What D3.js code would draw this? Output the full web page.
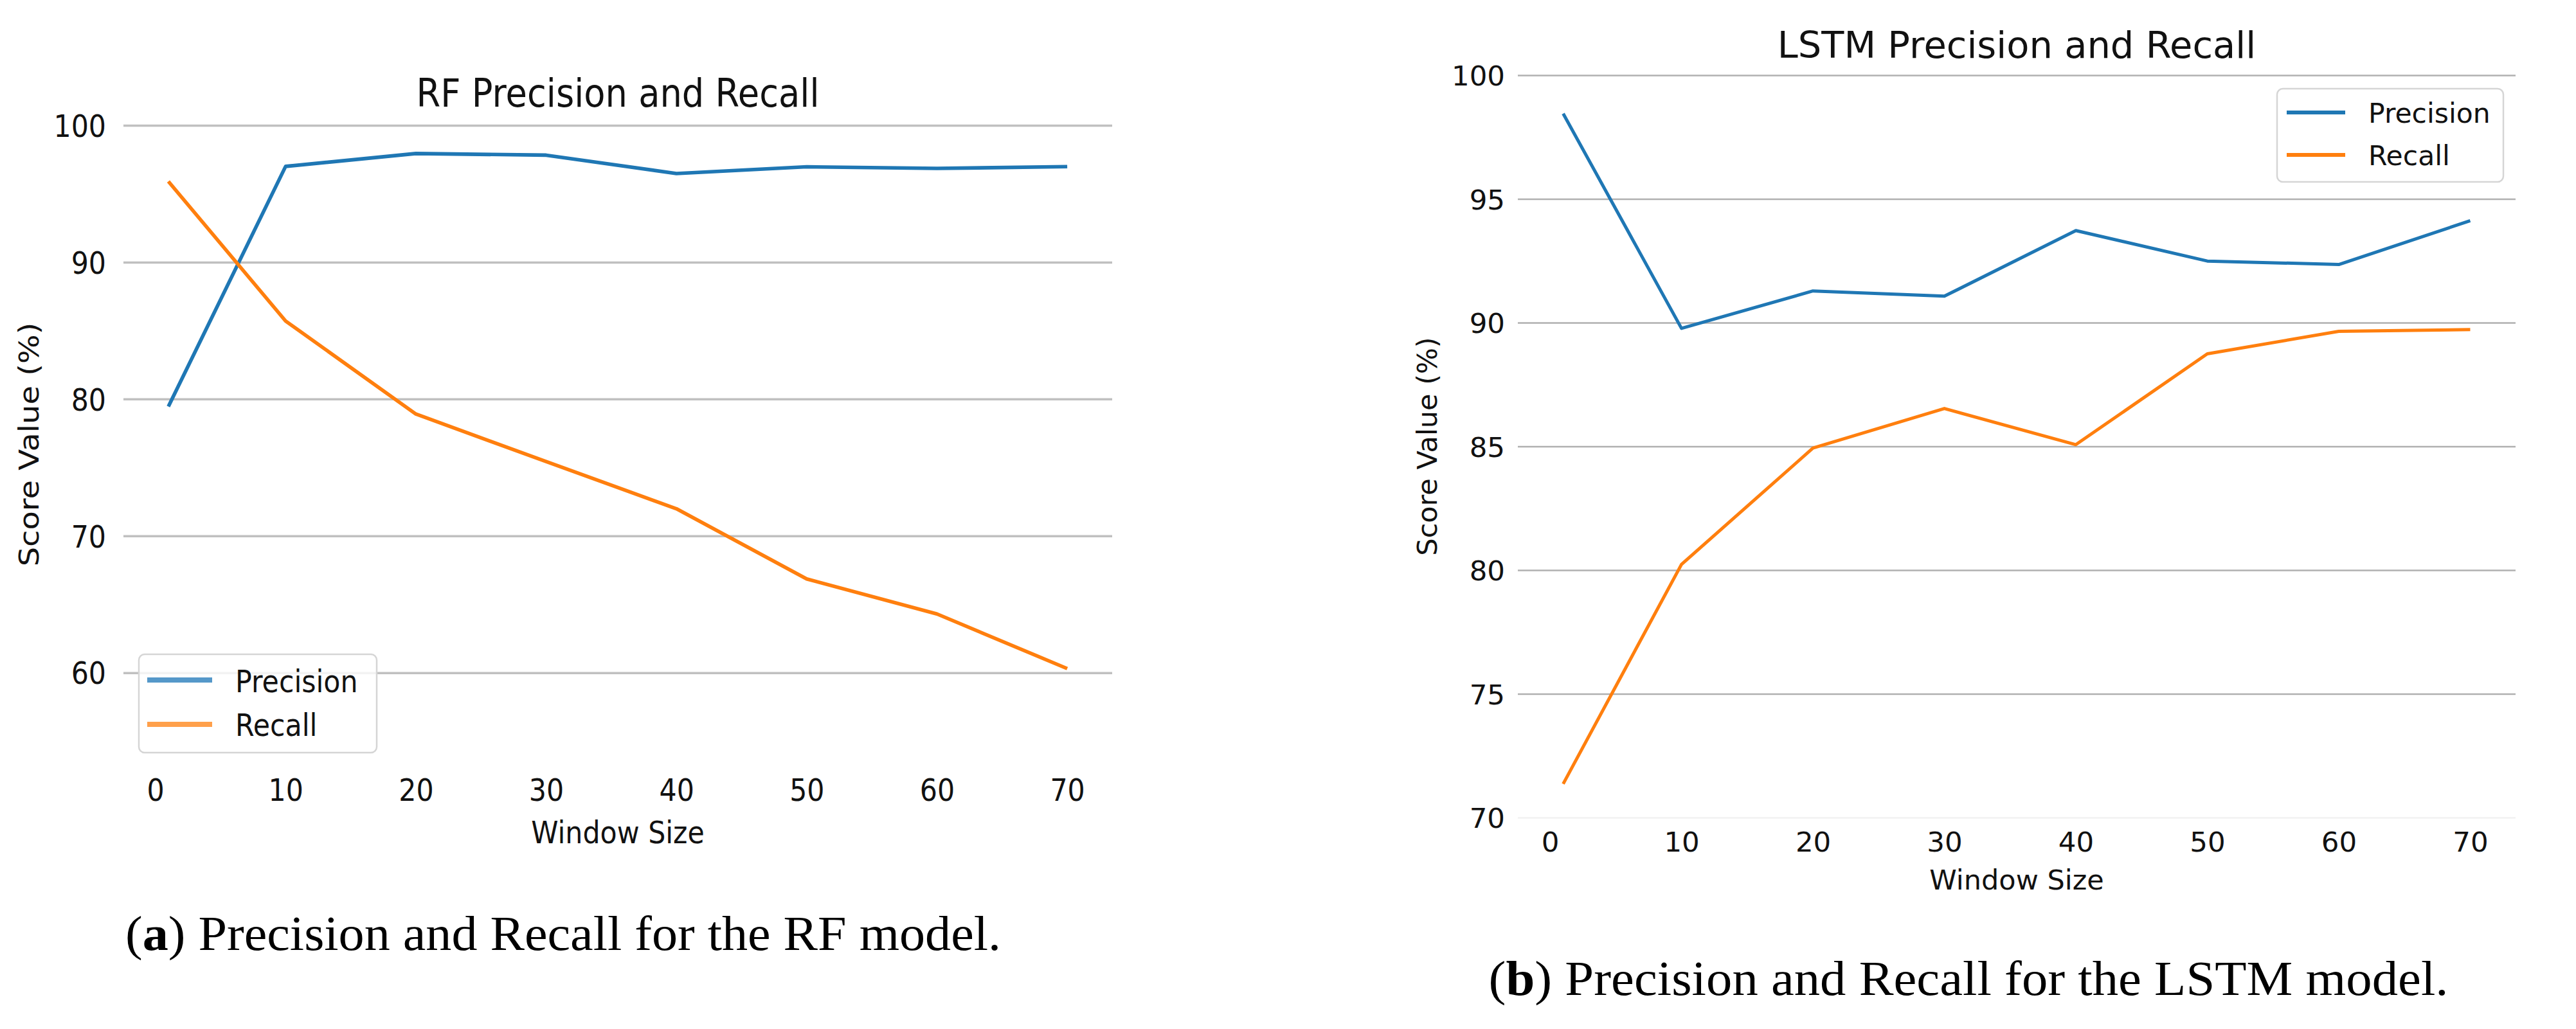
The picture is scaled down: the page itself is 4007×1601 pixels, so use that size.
<!DOCTYPE html>
<html>
<head>
<meta charset="utf-8">
<script src="https://cdn.jsdelivr.net/npm/d3@7"></script>
<style>
  body { margin: 0; background: #fff; }
  svg { display: block; }
</style>
</head>
<body>
<div id="fig"></div>
<script>
// ---------------- data ----------------
const windowSizes = [1, 10, 20, 30, 40, 50, 60, 70];
const xTicks = [0, 10, 20, 30, 40, 50, 60, 70];

const rfPrecision = [79.45, 97.0, 97.94, 97.82, 96.48, 96.97, 96.85, 96.98];
const rfRecall    = [95.9, 85.7, 78.9, 75.43, 71.98, 66.85, 64.29, 60.3];
const rfYTicks    = [60, 70, 80, 90, 100];

const lstmPrecision = [98.45, 89.77, 91.28, 91.07, 93.72, 92.49, 92.35, 94.12];
const lstmRecall    = [71.36, 80.23, 84.93, 86.53, 85.07, 88.74, 89.65, 89.72];
const lstmYTicks    = [70, 75, 80, 85, 90, 95, 100];

const seriesNames = ['Precision', 'Recall'];

const W = 4007, H = 1601;
const svg = d3.select('#fig').append('svg')
    .attr('width', W)
    .attr('height', H);

const FONT = 'DejaVu Sans, sans-serif';
const TEXT = '#111';

// one panel = one matplotlib axes
function drawPanel(cfg) {
    const x = d3.scaleLinear().domain([-2.45, 73.45]).range([cfg.x0, cfg.x1]);
    const y = d3.scaleLinear().domain(cfg.yDomain).range([cfg.yBottom, cfg.yTop]);
    const sx = cfg.squeeze;
    const g = svg.append('g');

    // horizontal grid + y tick labels
    const yAxis = g.append('g')
        .attr('transform', `translate(${cfg.x0},0)`)
        .call(d3.axisLeft(y).tickValues(cfg.yTicks).tickSize(-(cfg.x1 - cfg.x0)).tickFormat(d3.format('d')));
    yAxis.select('.domain').remove();
    yAxis.selectAll('.tick line')
        .attr('stroke', d => d === cfg.yDomain[0] ? '#f2f2f2' : cfg.gridColor)
        .attr('stroke-width', cfg.gridWidth);
    yAxis.selectAll('.tick text')
        .attr('x', -cfg.yLabelGap / sx)
        .attr('dy', '0.36em')
        .attr('transform', `scale(${sx},1)`)
        .attr('fill', TEXT)
        .style('font-family', FONT)
        .style('font-size', cfg.tickSize + 'px');

    // x tick labels (no tick marks, no spine)
    const xAxis = g.append('g')
        .attr('transform', `translate(0,${cfg.yBottom})`)
        .call(d3.axisBottom(x).tickValues(xTicks).tickSize(0).tickFormat(d3.format('d')));
    xAxis.select('.domain').remove();
    xAxis.selectAll('.tick text')
        .attr('x', 0)
        .attr('y', cfg.xTickBase - cfg.yBottom)
        .attr('dy', 0)
        .attr('transform', `scale(${sx},1)`)
        .attr('fill', TEXT)
        .style('font-family', FONT)
        .style('font-size', cfg.tickSize + 'px');

    // lines
    const line = d3.line()
        .x((d, i) => x(windowSizes[i]))
        .y(d => y(d));
    const colors = ['#1f77b4', '#ff7f0e'];
    [cfg.precision, cfg.recall].forEach((vals, k) => {
        g.append('path')
            .datum(vals)
            .attr('d', line)
            .attr('fill', 'none')
            .attr('stroke', colors[k])
            .attr('stroke-width', cfg.lineWidth)
            .attr('stroke-linejoin', 'round');
    });

    const cx = (cfg.x0 + cfg.x1) / 2;

    // title
    g.append('text')
        .attr('transform', `translate(${cx},${cfg.titleBase}) scale(${sx},1)`)
        .attr('text-anchor', 'middle')
        .attr('fill', TEXT)
        .style('font-family', FONT)
        .style('font-size', cfg.titleSize + 'px')
        .text(cfg.title);

    // axis labels
    g.append('text')
        .attr('transform', `translate(${cx},${cfg.xLabelBase}) scale(${sx},1)`)
        .attr('text-anchor', 'middle')
        .attr('fill', TEXT)
        .style('font-family', FONT)
        .style('font-size', cfg.labelSize + 'px')
        .text('Window Size');
    g.append('text')
        .attr('transform', `translate(${cfg.yLabelBase},${(cfg.yTop + cfg.yBottom) / 2}) scale(${sx},1) rotate(-90)`)
        .attr('text-anchor', 'middle')
        .attr('fill', TEXT)
        .style('font-family', FONT)
        .style('font-size', cfg.labelSize + 'px')
        .text('Score Value (%)');

    // legend
    const L = cfg.legend;
    const lg = g.append('g');
    lg.append('rect')
        .attr('x', L.x).attr('y', L.y)
        .attr('width', L.w).attr('height', L.h)
        .attr('rx', 9).attr('ry', 9)
        .attr('fill', 'white').attr('fill-opacity', 0.8)
        .attr('stroke', '#d5d5d5').attr('stroke-width', 2.5);
    seriesNames.forEach((name, k) => {
        lg.append('line')
            .attr('x1', L.lineX0).attr('x2', L.lineX1)
            .attr('y1', L.rows[k]).attr('y2', L.rows[k])
            .attr('stroke', L.colors[k])
            .attr('stroke-width', L.lineWidth);
        lg.append('text')
            .attr('transform', `translate(${L.textX},${L.bases[k]}) scale(${sx},1)`)
            .attr('fill', TEXT)
            .style('font-family', FONT)
            .style('font-size', L.fontSize + 'px')
            .text(name);
    });
}

drawPanel({
    title: 'RF Precision and Recall',
    precision: rfPrecision, recall: rfRecall,
    yTicks: rfYTicks, yDomain: [53.36, 100],
    x0: 192, x1: 1730, yTop: 195, yBottom: 1188,
    squeeze: 0.89,
    gridColor: '#c0c0c0', gridWidth: 3.5, lineWidth: 5.6,
    tickSize: 48, titleSize: 61, labelSize: 48,
    yLabelGap: 27, xTickBase: 1246, titleBase: 166, xLabelBase: 1312, yLabelBase: 60,
    legend: {
        x: 216, y: 1018, w: 370, h: 153,
        lineX0: 229, lineX1: 330, rows: [1058, 1127],
        textX: 366, bases: [1077, 1145], fontSize: 48,
        colors: ['#5598c9', '#ffa04b'], lineWidth: 8
    }
});

drawPanel({
    title: 'LSTM Precision and Recall',
    precision: lstmPrecision, recall: lstmRecall,
    yTicks: lstmYTicks, yDomain: [70, 100],
    x0: 2361, x1: 3913, yTop: 117, yBottom: 1272,
    squeeze: 1,
    gridColor: '#b0b0b0', gridWidth: 2.7, lineWidth: 5,
    tickSize: 43.5, titleSize: 57.5, labelSize: 43,
    yLabelGap: 20, xTickBase: 1325, titleBase: 90, xLabelBase: 1384, yLabelBase: 2235,
    legend: {
        x: 3542, y: 138, w: 352, h: 145,
        lineX0: 3557, lineX1: 3648, rows: [175, 241],
        textX: 3684, bases: [191, 257], fontSize: 42.5,
        colors: ['#1f77b4', '#ff7f0e'], lineWidth: 6
    }
});

// sub-figure captions
const captions = [
    {tag: 'a', text: 'Precision and Recall for the RF model.', cx: 876, base: 1478, len: 1362},
    {tag: 'b', text: 'Precision and Recall for the LSTM model.', cx: 3062, base: 1548, len: 1493}
];
captions.forEach(c => {
    const t = svg.append('text')
        .attr('x', c.cx).attr('y', c.base)
        .attr('text-anchor', 'middle')
        .attr('textLength', c.len)
        .attr('lengthAdjust', 'spacingAndGlyphs')
        .attr('fill', '#000')
        .style('font-family', 'Liberation Serif, serif')
        .style('font-size', '77px');
    t.append('tspan').text('(');
    t.append('tspan').attr('font-weight', 'bold').text(c.tag);
    t.append('tspan').text(') ' + c.text);
});
</script>
</body>
</html>
